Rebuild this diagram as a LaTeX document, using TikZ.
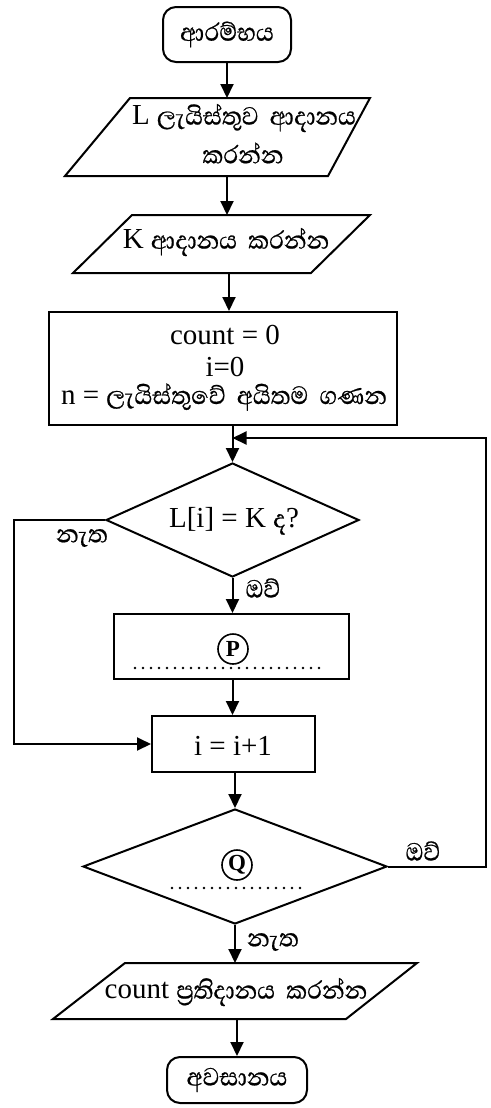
\documentclass[tikz,border=0pt]{standalone}
\usepackage{fontspec}
\setmainfont{Liberation Serif}
\newfontfamily\sifont[Script=Sinhala, FakeStretch=0.92, FakeBold=0.6]{Abhaya Libre}
\usetikzlibrary{arrows.meta,shapes.geometric}
\newcommand\sitext[1]{{\fontsize{32bp}{35bp}\sifont #1}}

\tikzset{
  line/.style={line width=2bp},
  arr/.style={line, -{Triangle[length=14bp,width=13bp]}},
  term/.style={draw, line, rounded corners=13bp, inner sep=0},
  proc/.style={draw, line, inner sep=0},
  dec/.style={draw, line, diamond, inner sep=0},
  io/.style={draw, line, line join=miter},
  txt/.style={font=\fontsize{29bp}{32bp}\selectfont, inner sep=0, align=center},
  dots/.style={line width=2.6bp, line cap=round, dash pattern=on 0bp off 8bp},
  circ/.style={draw, circle, line width=1.6bp, inner sep=0, minimum size=30bp,
               font=\fontsize{23bp}{23bp}\selectfont\bfseries},
}

\begin{document}
\begin{tikzpicture}[x=1bp,y=-1bp]
\useasboundingbox (0,0) rectangle (491,1108);

% start
\node[term, minimum width=128bp, minimum height=55bp] (start) at (227,34.5) {\sitext{ආරම්භය}};

% input list L
\draw[io] (130,98) -- (370,98) -- (328,176) -- (65,176) -- cycle;
\coordinate (readL-in) at (227,98);
\coordinate (readL-out) at (227,176);
\node[txt] (readL1) at (244,118) {L \sitext{ලැයිස්තුව\ \ ආදානය}};
\node[txt] (readL2) at (243,153) {\sitext{කරන්න}};

% input K
\draw[io] (132,215) -- (370,215) -- (311,273) -- (73,273) -- cycle;
\coordinate (readK-in) at (227,215);
\coordinate (readK-out) at (229,273);
\node[txt] (readK) at (226,242) {K \sitext{ආදානය\ \ කරන්න}};

% initialisation
\node[proc, minimum width=348bp, minimum height=113bp] (init) at (223,368.5) {};
\node[txt] (initA) at (225,335) {count = 0};
\node[txt] (initB) at (225,367) {i=0};
\node[txt] (initC) at (224,397) {n = \sitext{ලැයිස්තුවේ\ \ අයිතම\ \ ගණන}};

% first decision
\node[dec, minimum width=253bp, minimum height=114bp] (d1) at (232.5,520) {};
\node[txt] (d1t) at (234,521) {L[i] = K \sitext{ද}?};
\coordinate (merge) at (232.5,438);
\coordinate (loopL) at (14,520);

% blank step P
\node[proc, minimum width=235bp, minimum height=65bp] (stepP) at (231.5,646.5) {};
\node[circ] (markP) at (233,649) {P};
\draw[dots] (135,668) -- (327,668);

% increment
\node[proc, minimum width=163bp, minimum height=56bp] (inc) at (233.5,744) {};
\node[txt] (inct) at (233,746) {i = i+1};

% second decision
\node[dec, minimum width=304bp, minimum height=115bp] (d2) at (235,866.5) {};
\node[circ] (markQ) at (237,865) {Q};
\draw[dots] (172,888) -- (305,888);
\coordinate (loopR) at (486,866.5);

% output count
\draw[io] (125,963) -- (417,963) -- (346,1019) -- (53,1019) -- cycle;
\coordinate (outC-in) at (235,963);
\coordinate (outC-out) at (237,1019);
\node[txt] (outC) at (236,992) {count \sitext{ප්‍රතිදානය\ \ කරන්න}};

% end
\node[term, minimum width=140bp, minimum height=46bp] (stop) at (237,1080) {\sitext{අවසානය}};

% connectors
\draw[arr] (start.south) -- (readL-in);
\draw[arr] (readL-out) -- (readK-in);
\draw[arr] (readK-out) -- (readK-out |- init.north);
\draw[arr] (d1.north |- init.south) -- (d1.north);
\draw[arr] (d1.south) -- (d1.south |- stepP.north);
\draw[arr] (stepP.south -| d1.south) -- (d1.south |- inc.north);
\draw[arr] (d1.west) -- (loopL) |- (inc.west);
\draw[arr] (d2.north |- inc.south) -- (d2.north);
\draw[arr] (d2.east) -- (loopR) |- (merge);
\draw[arr] (d2.south) -- (outC-in);
\draw[arr] (outC-out) -- (stop.north -| outC-out);

% branch labels
\node[txt] (noA) at (82,538) {\sitext{නැත}};
\node[txt] (yesA) at (263,588) {\sitext{ඔව්}};
\node[txt] (yesB) at (423,851) {\sitext{ඔව්}};
\node[txt] (noB) at (273,942) {\sitext{නැත}};
\end{tikzpicture}
\end{document}
